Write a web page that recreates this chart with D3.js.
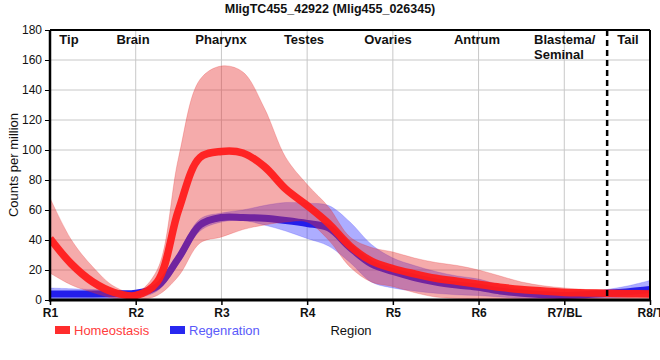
<!DOCTYPE html>
<html><head><meta charset="utf-8">
<script src="https://cdn.jsdelivr.net/npm/d3@7"></script>
<style>
body{margin:0;background:#fff;}
text{font-family:"Liberation Sans",Arial,sans-serif;}
</style></head>
<body><svg id="chart" width="660" height="360"></svg>
<script>
// ---- data ----
const title = "MligTC455_42922 (Mlig455_026345)";
const regionTicks = ["R1","R2","R3","R4","R5","R6","R7/BL","R8/T"];
const regionNames = ["Tip","Brain","Pharynx","Testes","Ovaries","Antrum","Blastema/\nSeminal","Tail"];
const yTicks = [0,20,40,60,80,100,120,140,160,180];
const positions = [1,1.25,1.5,1.75,2,2.25,2.5,2.75,3,3.25,3.5,3.75,4,4.25,4.5,4.75,5,5.25,5.5,5.75,6,6.25,6.5,6.75,7,7.25,7.5,7.75,8];
const homeoMean  = [41,24,12,5,3,12,60,95,99,98,89,74,63,51,36,26,21,17.5,14.5,12.5,10.5,8.5,7,6,5,4.7,4.5,4.2,4];
const homeoUpper = [68,40,22,9,5,20,95,147,156,152,128,95,77,62,42,35,32,28,25,23,20,16,12,9.5,8,7,6.5,6.5,6.5];
const homeoLower = [18,10,5,1,0,3,16,38,42,47,50,52,52,40,22,12,9,5,2,1,0.5,0.5,0.5,0.5,0.5,0.5,0.5,0.5,0.5];
const regenMean  = [4,4,4,4.2,4.5,9,28,50,55,55,54.5,53,51,48,35,24,19,15,12,10,8.5,6,4.5,3.5,3,3.5,4.5,5.5,7];
const regenUpper = [8,7.5,7,6.5,6,10,31,54,58,60,63,65,64.5,63,52,37,28,23,19,16,14,10,7,5.5,5,5.5,7,9.5,13];
const regenLower = [0.5,0.5,0.7,1,1.5,6,24,46,52,53,50,46,41,36,25,12,8,6,4.5,3.5,3,2,1,0.5,0.5,1,1.5,2,2.5];
const seriesNames = ["Homeostasis","Regenration"];
const boundary = 7.5;

// ---- layout ----
const svg = d3.select("#chart");
const m = {l:50, r:10, t:30, b:60};
const W = 660, H = 360;
const x = d3.scaleLinear().domain([1,8]).range([m.l, W-m.r]);
const y = d3.scaleLinear().domain([0,180]).range([H-m.b, m.t]);

// grid
svg.append("g").selectAll("line").data(yTicks).join("line")
  .attr("x1",x(1)).attr("x2",x(8)).attr("y1",d=>y(d)).attr("y2",d=>y(d))
  .attr("stroke","#c8c8c8").attr("stroke-width",1);
svg.append("g").selectAll("line").data(d3.range(1,9)).join("line")
  .attr("x1",d=>x(d)).attr("x2",d=>x(d)).attr("y1",y(0)).attr("y2",y(180))
  .attr("stroke","#c8c8c8").attr("stroke-width",1);

const curve = d3.curveCatmullRom.alpha(0.5);
function band(up, lo){
  return d3.area().curve(curve).x((d,i)=>x(positions[i])).y0((d,i)=>y(Math.max(0,lo[i]))).y1((d,i)=>y(up[i]))(positions);
}
function line(v){
  return d3.line().curve(curve).x((d,i)=>x(positions[i])).y((d,i)=>y(Math.max(0.3,v[i])))(positions);
}
svg.append("defs").append("clipPath").attr("id","clip").append("rect")
  .attr("x",x(1)).attr("y",y(180)).attr("width",x(8)-x(1)).attr("height",y(0)-y(180));
const plot = svg.append("g").attr("clip-path","url(#clip)");

plot.append("path").attr("d",band(regenUpper,regenLower))
  .attr("fill","rgb(40,40,255)").attr("fill-opacity",0.38)
  .attr("stroke","rgb(40,40,255)").attr("stroke-opacity",0.25).attr("stroke-width",0.8);
plot.append("path").attr("d",line(regenMean))
  .attr("fill","none").attr("stroke","rgb(35,30,235)").attr("stroke-width",7);
plot.append("path").attr("d",band(homeoUpper,homeoLower))
  .attr("fill","rgb(230,45,45)").attr("fill-opacity",0.4)
  .attr("stroke","rgb(230,45,45)").attr("stroke-opacity",0.3).attr("stroke-width",0.8);
plot.append("path").attr("d",line(homeoMean))
  .attr("fill","none").attr("stroke","rgb(255,28,28)").attr("stroke-opacity",0.95).attr("stroke-width",7.5);

// boundary dashed line
svg.append("line").attr("x1",x(boundary)).attr("x2",x(boundary)).attr("y1",y(180)).attr("y2",y(0))
  .attr("stroke","#000").attr("stroke-width",2.5).attr("stroke-dasharray","6,4");

// frame
svg.append("line").attr("x1",x(1)).attr("x2",x(8)).attr("y1",y(180)).attr("y2",y(180)).attr("stroke","#000").attr("stroke-width",2);
svg.append("line").attr("x1",x(8)).attr("x2",x(8)).attr("y1",y(180)).attr("y2",y(0)).attr("stroke","#000").attr("stroke-width",2);

// axes
const yAxis = d3.axisLeft(y).tickValues(yTicks).tickSize(5).tickPadding(3);
const gy = svg.append("g").attr("transform",`translate(${x(1)},0)`).call(yAxis);
gy.select(".domain").attr("stroke-width",2.5).attr("d",`M0,${y(0)+1.5}V${y(180)}`);
gy.selectAll("text").attr("font-size",12).attr("font-family","Liberation Sans, Arial, sans-serif").attr("fill","#111");
const xAxis = d3.axisBottom(x).tickValues(d3.range(1,9)).tickFormat((d,i)=>regionTicks[i]).tickSize(5).tickPadding(3);
const gx = svg.append("g").attr("transform",`translate(0,${y(0)})`).call(xAxis);
gx.select(".domain").attr("stroke-width",3).attr("d",`M${x(1)-1},0H${x(8)+1}`);
gx.selectAll(".tick line").attr("stroke-width",1.5);
gx.selectAll("text").attr("font-size",12).attr("font-weight","bold").attr("font-family","Liberation Sans, Arial, sans-serif").attr("fill","#111");

// region names
const nameLayout = [[69,"middle"],[133,"middle"],[221,"middle"],[304,"middle"],[388,"middle"],[477,"middle"],[534,"start"],[628,"middle"]];
regionNames.forEach((n,i)=>{
  const t = svg.append("text").attr("x",nameLayout[i][0]).attr("y",44)
    .attr("text-anchor",nameLayout[i][1]).attr("font-size",13).attr("font-weight","bold").attr("fill","#111");
  n.split("\n").forEach((s,k)=>t.append("tspan").attr("x",nameLayout[i][0]).attr("dy",k?15:0).text(s));
});

// title
svg.append("text").attr("x",330).attr("y",13).attr("text-anchor","middle")
  .attr("font-size",12.5).attr("font-weight","bold").attr("fill","#111").text(title);
// axis titles
svg.append("text").attr("transform",`translate(18,${(y(0)+y(180))/2}) rotate(-90)`)
  .attr("text-anchor","middle").attr("font-size",13).attr("fill","#111").text("Counts per million");
svg.append("text").attr("x",(x(1)+x(8))/2+1).attr("y",335).attr("text-anchor","middle")
  .attr("font-size",13).attr("fill","#111").text("Region");

// legend
const legColors = [["rgb(255,45,45)","rgb(255,60,60)"],["rgb(40,40,240)","rgb(90,90,250)"]];
const legX = [55,170];
seriesNames.forEach((s,i)=>{
  svg.append("rect").attr("x",legX[i]).attr("y",326).attr("width",15).attr("height",8).attr("fill",legColors[i][0]);
  svg.append("text").attr("x",legX[i]+19).attr("y",335).attr("font-size",13).attr("fill",legColors[i][1]).text(s);
});
</script></body></html>
